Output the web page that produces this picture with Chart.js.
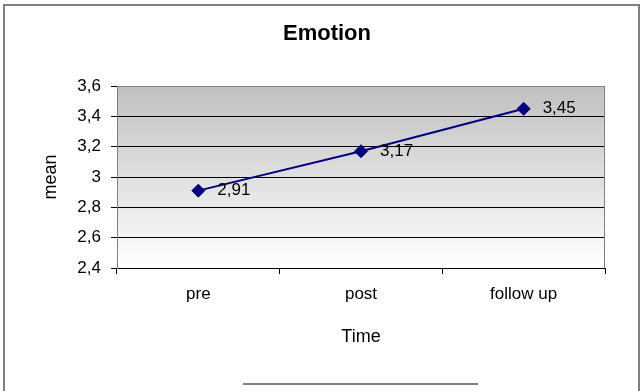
<!DOCTYPE html>
<html>
<head>
<meta charset="utf-8">
<title>Emotion</title>
<style>
  html, body { margin: 0; padding: 0; background: #ffffff; }
  canvas { display: block; }
</style>
<script src="https://cdn.jsdelivr.net/npm/chart.js@4/dist/chart.umd.min.js"></script>
</head>
<body>
<canvas id="chart" width="640" height="391"></canvas>
<script>
// Mean emotion score at each measurement time
const categories = ['pre', 'post', 'follow up'];
const meanValues = [2.91, 3.17, 3.45];
const yTickValues = [2.4, 2.6, 2.8, 3.0, 3.2, 3.4, 3.6];

const FONT = "'Liberation Sans', Arial, sans-serif";
const NAVY = '#000080';

// Decimal comma formatting
const fmt = v => String(Math.round(v * 100) / 100).replace('.', ',');

// Frame, plot-area gradient and bottom rule
const framePlugin = {
  id: 'frame',
  beforeDraw(chart) {
    const { ctx, chartArea: a, width, height } = chart;
    ctx.save();
    ctx.fillStyle = '#ffffff';
    ctx.fillRect(0, 0, width, height);
    const g = ctx.createLinearGradient(0, a.top, 0, a.bottom);
    g.addColorStop(0, '#c0c0c0');
    g.addColorStop(1, '#ffffff');
    ctx.fillStyle = g;
    ctx.fillRect(a.left, a.top, a.right - a.left, a.bottom - a.top);
    ctx.strokeStyle = '#808080';
    ctx.lineWidth = 2;
    ctx.strokeRect(4, 5, width - 5, height + 20);
    ctx.beginPath();
    const cx = (a.left + a.right) / 2;
    ctx.moveTo(cx - 118, height - 7);
    ctx.lineTo(cx + 117, height - 7);
    ctx.stroke();
    ctx.restore();
  },
  beforeDatasetsDraw(chart) {
    const { ctx, chartArea: a } = chart;
    ctx.save();
    ctx.strokeStyle = '#808080';
    ctx.lineWidth = 1;
    ctx.beginPath();
    ctx.moveTo(a.left, a.top + 0.5);
    ctx.lineTo(a.right - 0.5, a.top + 0.5);
    ctx.lineTo(a.right - 0.5, a.bottom);
    ctx.stroke();
    ctx.restore();
  }
};

// Value labels to the right of each marker
const valueLabelPlugin = {
  id: 'valueLabels',
  afterDatasetsDraw(chart) {
    const { ctx } = chart;
    const meta = chart.getDatasetMeta(0);
    const values = chart.data.datasets[0].data;
    ctx.save();
    ctx.font = '17px ' + FONT;
    ctx.fillStyle = '#000000';
    ctx.textAlign = 'left';
    ctx.textBaseline = 'middle';
    meta.data.forEach((pt, i) => {
      ctx.fillText(fmt(values[i]), pt.x + 19, pt.y);
    });
    ctx.restore();
  }
};

new Chart(document.getElementById('chart'), {
  type: 'line',
  data: {
    labels: categories,
    datasets: [{
      label: 'mean',
      data: meanValues,
      borderColor: NAVY,
      backgroundColor: NAVY,
      borderWidth: 2,
      tension: 0,
      pointStyle: 'rectRot',
      pointRadius: 6.5,
      pointBorderWidth: 1,
      pointBackgroundColor: NAVY,
      pointBorderColor: NAVY,
      fill: false
    }]
  },
  options: {
    responsive: false,
    animation: false,
    devicePixelRatio: 1,
    layout: { padding: { left: 49, right: 35, top: 0, bottom: 0 } },
    plugins: {
      legend: { display: false },
      tooltip: { enabled: false },
      title: {
        display: true,
        text: 'Emotion',
        color: '#000000',
        font: { family: FONT, size: 22, weight: 'bold' },
        padding: { top: 21, bottom: 38.6 }
      }
    },
    scales: {
      x: {
        type: 'category',
        offset: true,
        grid: {
          offset: true,
          drawOnChartArea: false,
          drawTicks: true,
          tickLength: 6,
          color: '#000000'
        },
        border: { display: true, color: '#000000', width: 1 },
        ticks: {
          color: '#000000',
          font: { family: FONT, size: 17 },
          padding: 10,
          maxRotation: 0,
          autoSkip: false
        },
        title: {
          display: true,
          text: 'Time',
          color: '#000000',
          font: { family: FONT, size: 18 },
          padding: { top: 0, bottom: 43 }
        },
        afterFit(scale) { scale.height = 123; }
      },
      y: {
        min: 2.4,
        max: 3.6,
        grid: {
          color: '#000000',
          lineWidth: 1,
          tickLength: 6,
          drawTicks: true
        },
        border: { display: true, color: '#808080', width: 1 },
        ticks: {
          color: '#000000',
          font: { family: FONT, size: 17 },
          padding: 10,
          callback: v => fmt(v)
        },
        afterBuildTicks(scale) {
          scale.ticks = yTickValues.map(v => ({ value: v }));
        },
        title: {
          display: true,
          text: 'mean',
          color: '#000000',
          font: { family: FONT, size: 18 },
          padding: { top: -8.8, bottom: 0 }
        },
        afterFit(scale) { scale.width = 68; }
      }
    }
  },
  plugins: [framePlugin, valueLabelPlugin]
});
</script>
</body>
</html>
